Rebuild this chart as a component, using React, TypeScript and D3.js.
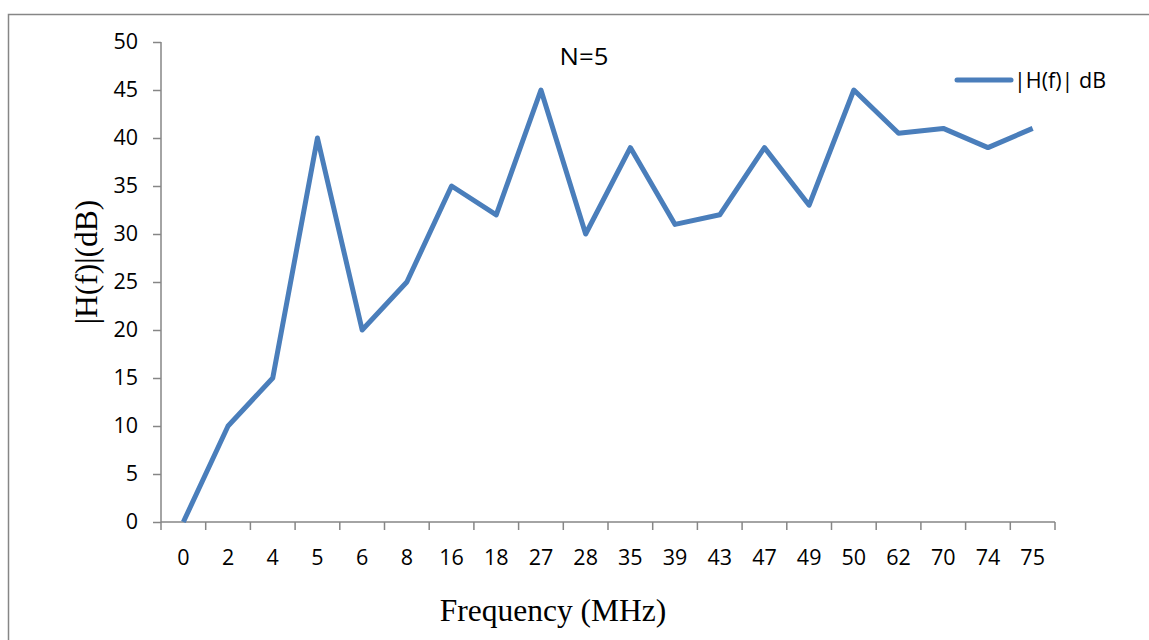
import React, { useEffect, useRef } from 'react'
import * as d3 from 'd3'

const frequencies = ['0', '2', '4', '5', '6', '8', '16', '18', '27', '28', '35', '39', '43', '47', '49', '50', '62', '70', '74', '75']
const magnitudeDb = [0, 10, 15, 40, 20, 25, 35, 32, 45, 30, 39, 31, 32, 39, 33, 45, 40.5, 41, 39, 41]
const yTicks = [0, 5, 10, 15, 20, 25, 30, 35, 40, 45, 50]
const seriesName = '|H(f)| dB'
const chartTitle = 'N=5'

export default function App() {
  const svgRef = useRef<SVGSVGElement>(null)

  useEffect(() => {
    if (!svgRef.current) return
    const svg = d3.select(svgRef.current)
    svg.selectAll('*').remove()

    const width = 1149
    const height = 640
    const margin = { top: 42, right: 94, bottom: 118, left: 161 }
    const innerWidth = width - margin.left - margin.right
    const innerHeight = height - margin.top - margin.bottom
    const axisColor = '#868686'
    const lineColor = '#4a7ebb'
    const sansFont = '"Open Sans", "Noto Sans", sans-serif'
    const serifFont = '"Liberation Serif", "Times New Roman", serif'

    // chart border
    svg.append('rect')
      .attr('x', 8.5)
      .attr('y', 14.5)
      .attr('width', width + 10)
      .attr('height', height + 10)
      .attr('fill', '#fff')
      .attr('stroke', axisColor)
      .attr('stroke-width', 1.5)

    const g = svg.append('g')
      .attr('transform', `translate(${margin.left},${margin.top})`)

    const x = d3.scaleBand()
      .domain(frequencies)
      .range([0, innerWidth])

    const y = d3.scaleLinear()
      .domain([0, 50])
      .range([innerHeight, 0])

    // y axis
    g.append('g')
      .call(d3.axisLeft(y).tickValues(yTicks).tickSize(8).tickPadding(15))
      .call(a => a.select('.domain').attr('stroke', axisColor).attr('stroke-width', 1.5).attr('d', `M0,0V${innerHeight}`))
      .call(a => a.selectAll('.tick line').attr('stroke', axisColor).attr('stroke-width', 1.5))
      .call(a => a.selectAll('.tick text')
        .attr('fill', '#000')
        .attr('font-family', sansFont)
        .attr('font-size', '21.5px'))

    // x axis: ticks between categories
    const xAxis = g.append('g').attr('transform', `translate(0,${innerHeight})`)
    xAxis.append('line')
      .attr('x1', 0).attr('x2', innerWidth)
      .attr('stroke', axisColor).attr('stroke-width', 1.5)
    const boundaries = frequencies.map(f => x(f) as number).concat([innerWidth])
    xAxis.selectAll('line.tk')
      .data(boundaries)
      .join('line')
      .attr('class', 'tk')
      .attr('x1', d => d).attr('x2', d => d)
      .attr('y1', 0).attr('y2', 8)
      .attr('stroke', axisColor).attr('stroke-width', 1.5)
    xAxis.selectAll('text')
      .data(frequencies)
      .join('text')
      .attr('x', d => (x(d) as number) + x.bandwidth() / 2)
      .attr('y', 43)
      .attr('text-anchor', 'middle')
      .attr('font-family', sansFont)
      .attr('font-size', '21.5px')
      .attr('fill', '#000')
      .text(d => d)

    // line
    const line = d3.line<number>()
      .x((_, i) => (x(frequencies[i]) as number) + x.bandwidth() / 2)
      .y(d => y(d))

    g.append('path')
      .datum(magnitudeDb)
      .attr('fill', 'none')
      .attr('stroke', lineColor)
      .attr('stroke-width', 5)
      .attr('stroke-linejoin', 'round')
      .attr('d', line)

    // title
    svg.append('text')
      .attr('transform', 'translate(584,65) scale(1.12,1)')
      .attr('text-anchor', 'middle')
      .attr('font-family', sansFont)
      .attr('font-size', '23px')
      .text(chartTitle)

    // legend
    svg.append('line')
      .attr('x1', 957).attr('x2', 1011)
      .attr('y1', 80).attr('y2', 80)
      .attr('stroke', lineColor)
      .attr('stroke-width', 5)
      .attr('stroke-linecap', 'round')
    svg.append('text')
      .attr('x', 1014)
      .attr('y', 88)
      .attr('font-family', sansFont)
      .attr('font-size', '21.5px')
      .text(seriesName)

    // axis titles
    svg.append('text')
      .attr('x', 553)
      .attr('y', 621)
      .attr('text-anchor', 'middle')
      .attr('font-family', serifFont)
      .attr('font-size', '31.5px')
      .text('Frequency (MHz)')

    svg.append('text')
      .attr('transform', 'translate(97,262) rotate(-90)')
      .attr('text-anchor', 'middle')
      .attr('font-family', serifFont)
      .attr('font-size', '31.5px')
      .text('|H(f)|(dB)')
  }, [])

  return (
    <svg
      ref={svgRef}
      width={1149}
      height={640}
      style={{ position: 'absolute', left: 0, top: 0, background: '#fff' }}
    />
  )
}
